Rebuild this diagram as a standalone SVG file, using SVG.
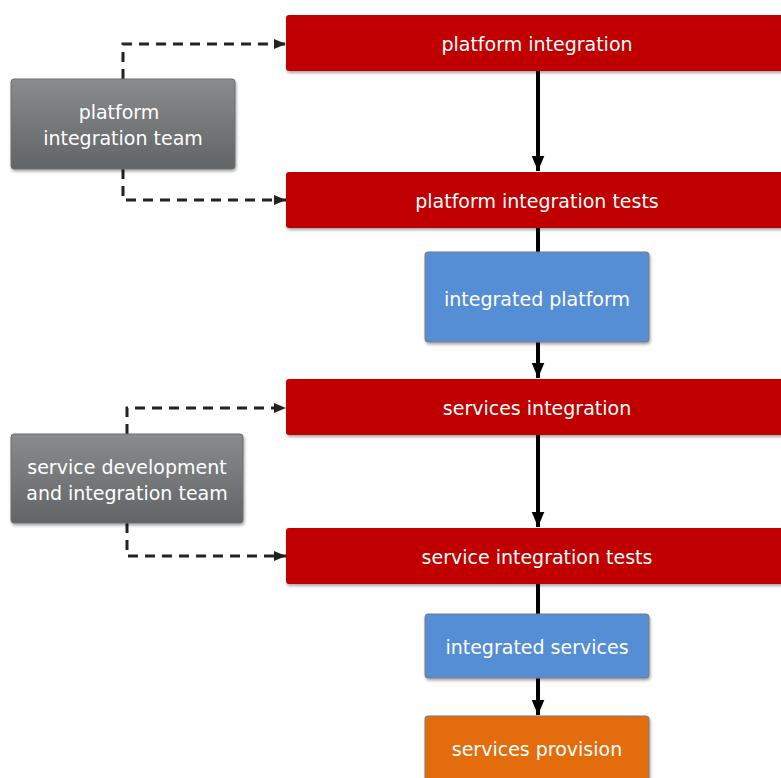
<svg xmlns="http://www.w3.org/2000/svg" width="781" height="778" viewBox="0 0 781 778">
<defs>
<linearGradient id="g" x1="0" y1="0" x2="0" y2="1"><stop offset="0" stop-color="#898b8c"/><stop offset="1" stop-color="#626466"/></linearGradient>
<filter id="sh" x="-10%" y="-20%" width="120%" height="150%"><feDropShadow dx="1" dy="2" stdDeviation="1.5" flood-color="#000" flood-opacity="0.35"/></filter>
<marker id="ab" viewBox="0 0 10 10" refX="10" refY="5" markerWidth="15" markerHeight="15" orient="auto" markerUnits="userSpaceOnUse"><path d="M0,0.8 L10,5 L0,9.2 z" fill="#000"/></marker>
<marker id="ad" viewBox="0 0 10 10" refX="10" refY="5" markerWidth="12" markerHeight="12" orient="auto" markerUnits="userSpaceOnUse"><path d="M0,0.8 L10,5 L0,9.2 z" fill="#222"/></marker>
</defs>
<style>
.red{fill:#c00000;filter:url(#sh)}
.blue{fill:#558ed5;stroke:#7a7a7a;stroke-width:1;filter:url(#sh)}
.org{fill:#e36c09;stroke:#7a7a7a;stroke-width:1;filter:url(#sh)}
.gray{fill:url(#g);stroke:#6e6e6e;stroke-width:1;filter:url(#sh)}
text{font-family:"DejaVu Sans",Verdana,sans-serif;font-size:19px;fill:#fff;text-anchor:middle}
.solid{stroke:#000;stroke-width:4;fill:none}
.dash{stroke:#222;stroke-width:3;fill:none;stroke-dasharray:10,7}
</style>
<g id="connectors">
<path class="solid" d="M538,71 V171" marker-end="url(#ab)"/>
<path class="solid" d="M538,228 V254"/>
<path class="solid" d="M538,342 V378" marker-end="url(#ab)"/>
<path class="solid" d="M538,435 V527" marker-end="url(#ab)"/>
<path class="solid" d="M538,584 V616"/>
<path class="solid" d="M538,678 V715" marker-end="url(#ab)"/>
<path class="dash" d="M123,79 V44 H286" marker-end="url(#ad)"/>
<path class="dash" d="M123,169 V200 H286" marker-end="url(#ad)"/>
<path class="dash" d="M127,434 V408 H286" marker-end="url(#ad)"/>
<path class="dash" d="M127,523 V556 H286" marker-end="url(#ad)"/>
</g>
<g id="platform-integration"><rect class="red" x="286" y="15" width="510" height="56" rx="3"/><text x="537" y="51">platform integration</text></g>
<g id="platform-integration-tests"><rect class="red" x="286" y="172" width="510" height="56" rx="3"/><text x="537" y="208">platform integration tests</text></g>
<g id="integrated-platform"><rect class="blue" x="425" y="252" width="224" height="90" rx="3"/><text x="537" y="306">integrated platform</text></g>
<g id="services-integration"><rect class="red" x="286" y="379" width="510" height="56" rx="3"/><text x="537" y="415">services integration</text></g>
<g id="service-integration-tests"><rect class="red" x="286" y="528" width="510" height="56" rx="3"/><text x="537" y="564">service integration tests</text></g>
<g id="integrated-services"><rect class="blue" x="425" y="614" width="224" height="64" rx="3"/><text x="537" y="654">integrated services</text></g>
<g id="services-provision"><rect class="org" x="425" y="716" width="224" height="80" rx="3"/><text x="537" y="756">services provision</text></g>
<g id="platform-integration-team"><rect class="gray" x="11" y="79" width="224" height="90" rx="3"/><text x="119" y="119">platform</text><text x="123" y="145">integration team</text></g>
<g id="service-dev-team"><rect class="gray" x="11" y="434" width="232" height="89" rx="3"/><text x="127" y="474">service development</text><text x="127" y="500">and integration team</text></g>
</svg>
